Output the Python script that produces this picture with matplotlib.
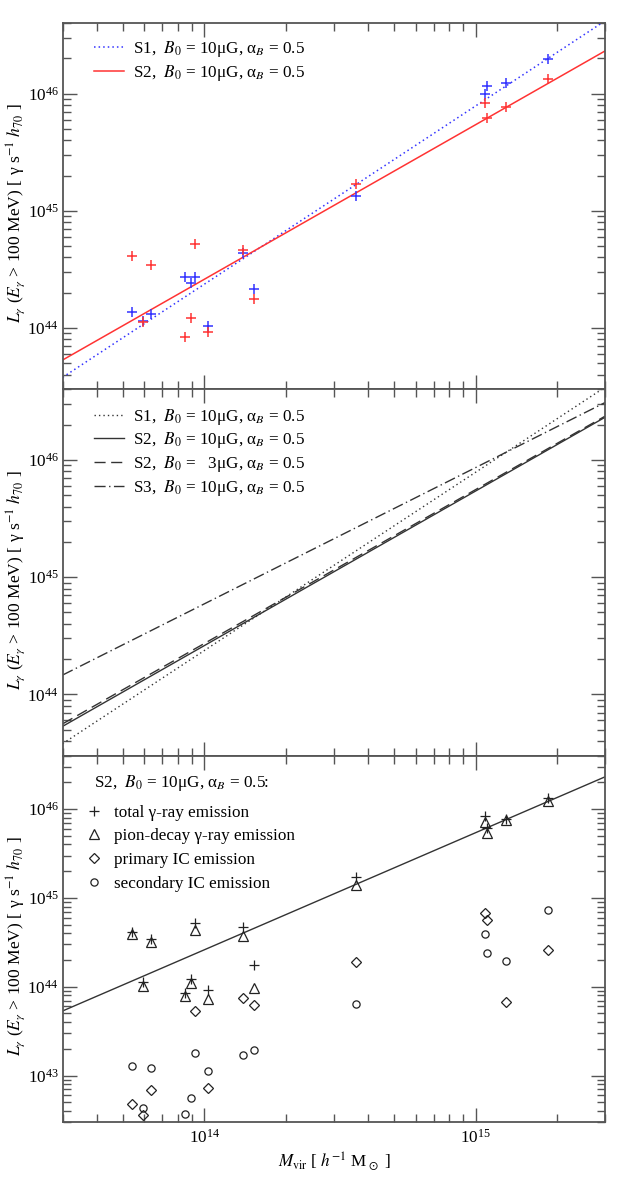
import numpy as np
import matplotlib
matplotlib.use("Agg")
import matplotlib.pyplot as plt
from matplotlib.ticker import LogLocator, NullFormatter

plt.rcParams['font.family'] = ['Liberation Serif', 'DejaVu Serif']
plt.rcParams['mathtext.fontset'] = 'stix'
plt.rcParams['font.size'] = 12.3

# cluster virial masses [h^-1 Msun]
mass = np.array([5.41e13, 5.93e13, 6.37e13, 8.49e13, 8.88e13, 9.25e13, 1.027e14,
                 1.383e14, 1.526e14, 3.63e14, 1.078e15, 1.10e15, 1.291e15, 1.854e15])

# L_gamma(E > 100 MeV) for the two models
lum_s1 = np.array([1.38e44, 1.15e44, 1.31e44, 2.75e44, 2.43e44, 2.75e44, 1.05e44,
                   4.4e44, 2.17e44, 1.33e45, 1.0e46, 1.17e46, 1.22e46, 1.97e46])
lum_s2 = np.array([4.13e44, 1.12e44, 3.44e44, 8.4e43, 1.22e44, 5.18e44, 9.2e43,
                   4.67e44, 1.78e44, 1.71e45, 8.3e45, 6.2e45, 7.7e45, 1.33e46])

# S2 components (total = lum_s2)
lum_pion = np.array([3.9e44, 1.03e44, 3.2e44, 7.85e43, 1.11e44, 4.4e44, 7.3e43,
                     3.74e44, 9.6e43, 1.41e45, 7.08e45, 5.32e45, 7.5e45, 1.24e46])
lum_prim_ic = np.array([4.8e42, 3.6e42, 6.9e42, np.nan, np.nan, 5.35e43, 7.3e42,
                        7.5e43, 6.2e43, 1.91e44, 6.8e44, 5.7e44, 6.7e43, 2.6e44])
lum_sec_ic = np.array([1.29e43, 4.3e42, 1.23e43, 3.7e42, 5.6e42, 1.79e43, 1.13e43,
                       1.71e43, 1.93e43, 6.4e43, 3.9e44, 2.4e44, 1.96e44, 7.3e44])

# power-law fits: (log10 L at M = 1e14, slope)
fit_s1 = (44.375, 1.52)
fit_s2 = (44.417, 1.318)
fit_s2_3mug = (44.435, 1.312)
fit_s3 = (44.773, 1.162)

x_lim = (3e13, 3e15)
y_lims = [(3e43, 4e46), (3e43, 4e46), (3e42, 4e46)]

lab_s1 = r'S1,  $B_0$ = 10μG, α$_B$ = 0.5'
lab_s2 = r'S2,  $B_0$ = 10μG, α$_B$ = 0.5'
lab_s2b = r'S2,  $B_0$ =   3μG, α$_B$ = 0.5'
lab_s3 = r'S3,  $B_0$ = 10μG, α$_B$ = 0.5'

ylabel = r'$L_\gamma$ ($E_\gamma$ > 100 MeV) [ γ s$^{-1}$ $h_{70}$ ]'
xlabel = r'$M_{\rm vir}$ [ $h^{-1}$ M$_\odot$ ]'

spine_col = '#555555'


def fit_line(fit):
    m = np.logspace(np.log10(x_lim[0]), np.log10(x_lim[1]), 100)
    return m, 10 ** (fit[0] + fit[1] * (np.log10(m) - 14))


def style_axis(ax, ylim, show_x):
    ax.set_xscale('log')
    ax.set_yscale('log')
    ax.set_xlim(*x_lim)
    ax.set_ylim(*ylim)
    for axis in (ax.xaxis, ax.yaxis):
        axis.set_major_locator(LogLocator(base=10))
        axis.set_minor_locator(LogLocator(base=10, subs=np.arange(2, 10)))
        axis.set_minor_formatter(NullFormatter())
    ax.tick_params(which='both', direction='in', top=True, right=True,
                   color=spine_col, width=1.0)
    ax.tick_params(which='major', length=10, pad=3)
    ax.tick_params(which='minor', length=5.5)
    ax.tick_params(axis='x', which='major', pad=5)
    if not show_x:
        ax.tick_params(labelbottom=False)
    for sp in ax.spines.values():
        sp.set_color(spine_col)
        sp.set_linewidth(1.3)
    ax.set_ylabel(ylabel, fontsize=12.6)
    ax.yaxis.set_label_coords(-0.066, 0.48)


fig = plt.figure(figsize=(6.29, 11.81), dpi=100)
left, width = 0.0997, 0.8622
h = 0.31018
ax_top = fig.add_axes([left, 0.04996 + 2 * h, width, h])
ax_mid = fig.add_axes([left, 0.04996 + h, width, h])
ax_bot = fig.add_axes([left, 0.04996, width, h])

# --- top panel: S1 vs S2 ---
ax = ax_top
ax.plot(*fit_line(fit_s1), color='#3333ff', lw=1.1, ls=(0, (1, 2)), label=lab_s1)
ax.plot(*fit_line(fit_s2), color='#ff3333', lw=1.1, label=lab_s2)
ax.plot(mass, lum_s1, ls='none', marker='+', ms=7, mew=1.1, color='#3333ff')
ax.plot(mass, lum_s2, ls='none', marker='+', ms=7, mew=1.1, color='#ff3333')
style_axis(ax, y_lims[0], False)
ax.legend(loc='upper left', bbox_to_anchor=(0.058, 0.957), frameon=False,
          borderpad=0, borderaxespad=0, handlelength=1.75, handletextpad=0.5,
          labelspacing=0.22)

# --- middle panel: model fits ---
ax = ax_mid
ax.plot(*fit_line(fit_s1), color='#333333', lw=1.0, ls=(0, (1, 2.2)), label=lab_s1)
ax.plot(*fit_line(fit_s2), color='#333333', lw=1.0, label=lab_s2)
ax.plot(*fit_line(fit_s2_3mug), color='#333333', lw=1.0, ls=(0, (8, 4)), label=lab_s2b)
ax.plot(*fit_line(fit_s3), color='#333333', lw=1.0, ls=(0, (8, 2.5, 1, 2.5)), label=lab_s3)
style_axis(ax, y_lims[1], False)
ax.legend(loc='upper left', bbox_to_anchor=(0.058, 0.953), frameon=False,
          borderpad=0, borderaxespad=0, handlelength=1.75, handletextpad=0.5,
          labelspacing=0.22)

# --- bottom panel: S2 components ---
ax = ax_bot
ax.plot(*fit_line(fit_s2), color='#333333', lw=1.0)
mk = dict(ls='none', color='#222222', mfc='none', mew=0.9)
h1, = ax.plot(mass, lum_s2, marker='+', ms=7, **mk)
h2, = ax.plot(mass, lum_pion, marker='^', ms=7, **mk)
h3, = ax.plot(mass, lum_prim_ic, marker='D', ms=5, **mk)
h4, = ax.plot(mass, lum_sec_ic, marker='o', ms=5.2, **mk)
style_axis(ax, y_lims[2], True)
ax.set_xlabel(xlabel, labelpad=3)
ax.text(0.058, 1 - 0.0757, r'S2,  $B_0$ = 10μG, α$_B$ = 0.5:', transform=ax.transAxes,
        ha='left', va='center')
ax.legend([h1, h2, h3, h4],
          ['total γ-ray emission', 'pion-decay γ-ray emission',
           'primary IC emission', 'secondary IC emission'],
          loc='upper left', bbox_to_anchor=(0.042, 0.866), frameon=False,
          borderpad=0, borderaxespad=0, handlelength=1.0, handletextpad=0.65,
          labelspacing=0.45, numpoints=1)

fig.savefig('out.png', dpi=100)
